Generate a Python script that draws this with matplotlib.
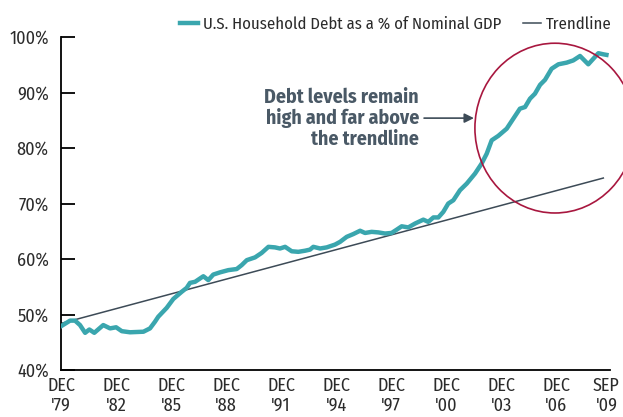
import matplotlib
matplotlib.use("Agg")
import matplotlib.pyplot as plt
from matplotlib.patches import Ellipse

# household debt as % of nominal GDP
years = [1979.92, 1980.41, 1980.68, 1980.95, 1981.23, 1981.46, 1981.73, 1982.22,
         1982.59, 1982.92, 1983.23, 1983.68, 1984.41, 1984.77, 1985.04, 1985.22,
         1985.68, 1986.04, 1986.50, 1986.77, 1986.95, 1987.23, 1987.68, 1987.95,
         1988.22, 1988.59, 1989.04, 1989.50, 1989.77, 1990.05, 1990.50, 1990.86,
         1991.23, 1991.59, 1991.86, 1992.14, 1992.50, 1992.86, 1993.23, 1993.50,
         1993.68, 1994.05, 1994.41, 1994.86, 1995.14, 1995.50, 1995.86, 1996.23,
         1996.50, 1996.86, 1997.23, 1997.59, 1997.95, 1998.23, 1998.50, 1998.86,
         1999.23, 1999.68, 1999.95, 2000.23, 2000.50, 2000.77, 2001.04, 2001.32,
         2001.68, 2002.05, 2002.50, 2002.86, 2003.14, 2003.41, 2003.77, 2004.23,
         2004.59, 2004.95, 2005.23, 2005.50, 2005.77, 2006.05, 2006.32, 2006.68,
         2007.05, 2007.50, 2007.86, 2008.23, 2008.68, 2009.23, 2009.50, 2009.67]
debt = [47.9, 48.9, 48.9, 48.1, 46.7, 47.3, 46.7, 48.1,
        47.5, 47.7, 47.0, 46.8, 46.9, 47.5, 48.7, 49.6,
        51.2, 52.8, 54.1, 54.8, 55.7, 55.9, 56.9, 56.2,
        57.2, 57.6, 58.0, 58.2, 58.9, 59.8, 60.3, 61.1,
        62.2, 62.1, 61.9, 62.2, 61.4, 61.3, 61.5, 61.7,
        62.2, 61.9, 62.1, 62.6, 63.1, 64.0, 64.5, 65.1,
        64.7, 64.9, 64.8, 64.6, 64.7, 65.3, 65.9, 65.7,
        66.4, 67.1, 66.7, 67.5, 67.5, 68.5, 70.0, 70.6,
        72.4, 73.6, 75.4, 77.2, 79.0, 81.4, 82.2, 83.5,
        85.3, 87.1, 87.4, 88.9, 89.8, 91.4, 92.3, 94.3,
        95.1, 95.4, 95.8, 96.6, 95.1, 97.1, 96.9, 96.8]

trend_years = [1979.92, 2009.50]
trend_vals = [48.4, 74.6]

xtick_pos = [1979.92, 1982.92, 1985.92, 1988.92, 1991.92, 1994.92, 1997.92,
             2000.92, 2003.92, 2006.92, 2009.67]
xtick_labels = ["DEC\n'79", "DEC\n'82", "DEC\n'85", "DEC\n'88", "DEC\n'91", "DEC\n'94",
                "DEC\n'97", "DEC\n'00", "DEC\n'03", "DEC\n'06", "SEP\n'09"]
ytick_pos = [40, 50, 60, 70, 80, 90, 100]
ytick_labels = ["40%", "50%", "60%", "70%", "80%", "90%", "100%"]

plt.rcParams["font.family"] = ["Fira Sans Condensed", "DejaVu Sans"]

teal = "#3aa6ae"
slate = "#3d4b57"
crimson = "#a8173f"
txt = "#2b2b2b"

fig = plt.figure(figsize=(6.23, 4.17), dpi=100)
ax = fig.add_axes([0.098, 0.1127, 0.881, 0.7983])

ax.plot(years, debt, color=teal, lw=3.2, solid_joinstyle="round",
        label="U.S. Household Debt as a % of Nominal GDP", zorder=3)
ax.plot(trend_years, trend_vals, color=slate, lw=1.1, label="Trendline", zorder=2)

ax.set_xlim(1979.917, 2009.86)
ax.set_ylim(40, 100)
ax.set_yticks(ytick_pos)
ax.set_yticklabels(ytick_labels)
ax.set_xticks(xtick_pos)
ax.set_xticklabels(xtick_labels, linespacing=1.15)
ax.tick_params(axis="y", direction="in", length=10, width=1.3, colors="black",
               labelcolor=txt, labelsize=13, pad=9)
ax.tick_params(axis="x", length=0, labelcolor=txt, labelsize=13, pad=5)
for s in ["top", "right"]:
    ax.spines[s].set_visible(False)
for s in ["left", "bottom"]:
    ax.spines[s].set_linewidth(1.3)

# circle around the recent surge
ax.add_patch(Ellipse((2006.86, 83.6), 8.73, 30.6, fill=False, ec=crimson,
                     lw=1.2, clip_on=False, zorder=4))

ax.annotate("", xy=(2002.44, 85.4), xytext=(1999.72, 85.4),
            arrowprops=dict(arrowstyle="-|>", color=slate, lw=1.2,
                            mutation_scale=14, shrinkA=0, shrinkB=0))
ax.text(1999.45, 85.4, "Debt levels remain\nhigh and far above\nthe trendline",
        ha="right", va="center", fontsize=14.3, fontweight="bold", color="#4a5966",
        linespacing=1.08)

leg = ax.legend(loc="lower right", bbox_to_anchor=(1.004, 1.015), ncol=2, frameon=False,
                fontsize=12, handlelength=1.1, handletextpad=0.3, columnspacing=1.3,
                borderaxespad=0, borderpad=0)
for t in leg.get_texts():
    t.set_color(txt)

fig.savefig("out.png", dpi=100)
